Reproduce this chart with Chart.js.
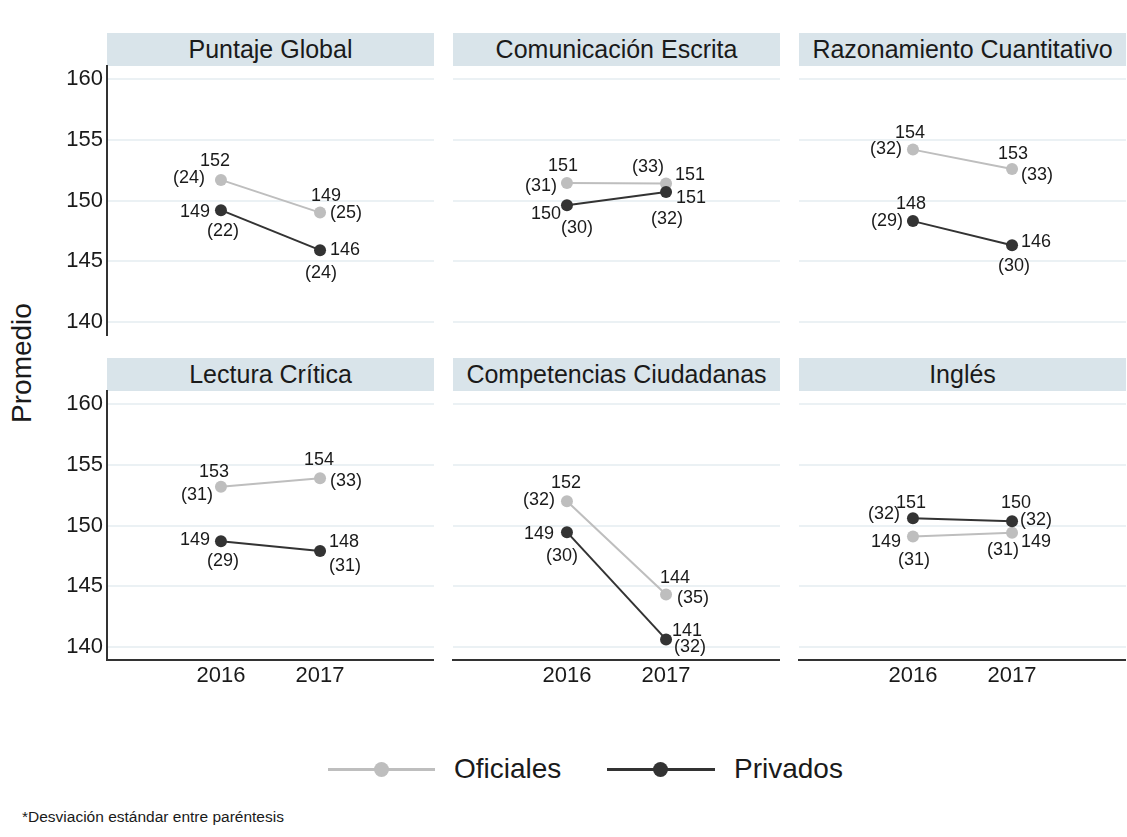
<!DOCTYPE html>
<html>
<head>
<meta charset="utf-8">
<script src="https://cdn.jsdelivr.net/npm/chart.js@4.4.1/dist/chart.umd.min.js"></script>
<style>
  body { margin: 0; background: #fff; font-family: "Liberation Sans", Arial, sans-serif; color: #1a1a1a; }
  #wrap { position: relative; width: 1127px; height: 837px; overflow: hidden; }
  .strip { position: absolute; background: #D9E4EA; text-align: center; font-size: 25px; line-height: 33px; height: 33px; }
  canvas { position: absolute; }
  .lg-line { position: absolute; height: 3px; }
  .lg-dot { position: absolute; width: 15px; height: 15px; border-radius: 50%; }
  .lg-text { position: absolute; font-size: 28px; line-height: 32px; }
</style>
</head>
<body>
<div id="wrap">
  <div id="ytitle" style="position:absolute; left:22px; top:363px; transform:translate(-50%,-50%) rotate(-90deg); font-size:28px; white-space:nowrap;">Promedio</div>

  <div class="lg-line" style="left:328px; top:768px; width:107px; background:#BEBEBE;"></div>
  <div class="lg-dot" style="left:374px; top:762px; background:#BEBEBE;"></div>
  <div class="lg-text" style="left:454px; top:753px;">Oficiales</div>
  <div class="lg-line" style="left:607px; top:768px; width:108px; background:#333;"></div>
  <div class="lg-dot" style="left:653px; top:762px; background:#333;"></div>
  <div class="lg-text" style="left:734px; top:753px;">Privados</div>

  <div style="position:absolute; left:22px; top:808px; font-size:15.5px;">*Desviación estándar entre paréntesis</div>
</div>
<script>
// datos
const subjects = ['Puntaje Global', 'Comunicación Escrita', 'Razonamiento Cuantitativo',
                  'Lectura Crítica', 'Competencias Ciudadanas', 'Inglés'];
const years = [2016, 2017];
const oficiales = [[151.7, 149.0], [151.45, 151.4], [154.2, 152.6], [153.2, 153.9], [152.0, 144.3], [149.1, 149.4]];
const privados = [[149.2, 145.9], [149.6, 150.7], [148.3, 146.3], [148.7, 147.9], [149.45, 140.6], [150.6, 150.35]];
const oficialesSD = [[24, 25], [31, 33], [32, 33], [31, 33], [32, 35], [31, 31]];
const privadosSD = [[22, 24], [30, 32], [29, 30], [29, 31], [30, 32], [32, 32]];
const yTicks = [140, 145, 150, 155, 160];

// posiciones de las etiquetas (dx, dy valor, dx, dy desviación) relativas al punto
const labelOffsets = [
  { ofi: [[-6, -19, -32, -2], [6, -17, 26, 0]],   pri: [[-26, 2, 2, 21], [25, 0, 1, 23]] },
  { ofi: [[-4, -17, -26, 3], [24, -9, -18, -17]], pri: [[-21, 9, 10, 23], [25, 6, 1, 27]] },
  { ofi: [[-3, -17, -27, -1], [1, -15, 25, 6]],   pri: [[-2, -17, -26, 0], [24, -3, 2, 21]] },
  { ofi: [[-7, -15, -24, 8], [-1, -18, 26, 3]],   pri: [[-26, -1, 2, 20], [24, -9, 25, 15]] },
  { ofi: [[-1, -18, -28, -1], [9, -17, 27, 3]],   pri: [[-28, 2, -5, 24], [21, -8, 24, 8]] },
  { ofi: [[-27, 6, 1, 24], [24, 9, -9, 17]],      pri: [[-2, -15, -29, -4], [4, -18, 24, -1]] }
];

const GRIS = '#BEBEBE';
const OSCURO = '#333333';
const colLeft = [107, 453, 799];
const rowTop = [66, 391];
const panelW = 327, plotH = 269, yAxisW = 70, xAxisH = 40, padTop = 20;

const wrap = document.getElementById('wrap');

// plugin para dibujar valor y (desviación) junto a cada punto
const etiquetas = {
  id: 'etiquetas',
  afterDatasetsDraw(chart) {
    const ctx = chart.ctx;
    const p = chart.options.plugins.etiquetas.panel;
    ctx.save();
    ctx.font = '18px "Liberation Sans", Arial, sans-serif';
    ctx.fillStyle = '#1a1a1a';
    ctx.textAlign = 'center';
    ctx.textBaseline = 'middle';
    chart.data.datasets.forEach((ds, di) => {
      const meta = chart.getDatasetMeta(di);
      const offs = labelOffsets[p][ds.key];
      const sds = ds.key === 'ofi' ? oficialesSD[p] : privadosSD[p];
      meta.data.forEach((pt, i) => {
        const o = offs[i];
        ctx.fillText(String(Math.round(ds.data[i].y)), pt.x + o[0], pt.y + o[1]);
        ctx.fillText('(' + sds[i] + ')', pt.x + o[2], pt.y + o[3]);
      });
    });
    ctx.restore();
  }
};

subjects.forEach((name, p) => {
  const col = p % 3, row = Math.floor(p / 3);

  const strip = document.createElement('div');
  strip.className = 'strip';
  strip.style.left = colLeft[col] + 'px';
  strip.style.top = (rowTop[row] - 33) + 'px';
  strip.style.width = panelW + 'px';
  strip.textContent = name;
  wrap.appendChild(strip);

  const cv = document.createElement('canvas');
  cv.width = yAxisW + panelW;
  cv.height = padTop + plotH + xAxisH;
  cv.style.left = (colLeft[col] - yAxisW) + 'px';
  cv.style.top = (rowTop[row] - padTop) + 'px';
  wrap.appendChild(cv);

  new Chart(cv.getContext('2d'), {
    type: 'line',
    data: {
      datasets: [
        { key: 'ofi', label: 'Oficiales', order: 2,
          data: years.map((y, i) => ({ x: y, y: oficiales[p][i] })),
          borderColor: GRIS, backgroundColor: GRIS, pointBackgroundColor: GRIS,
          borderWidth: 2, pointRadius: 6, pointBorderWidth: 0 },
        { key: 'pri', label: 'Privados', order: 1,
          data: years.map((y, i) => ({ x: y, y: privados[p][i] })),
          borderColor: OSCURO, backgroundColor: OSCURO, pointBackgroundColor: OSCURO,
          borderWidth: 2, pointRadius: 6, pointBorderWidth: 0 }
      ]
    },
    options: {
      responsive: false,
      animation: false,
      devicePixelRatio: 1,
      layout: { padding: { top: padTop, left: 0, right: 0, bottom: 0 }, autoPadding: false },
      plugins: { legend: { display: false }, tooltip: { enabled: false }, etiquetas: { panel: p } },
      scales: {
        x: {
          type: 'linear', min: 2014.85, max: 2018.15,
          afterBuildTicks: s => { s.ticks = years.map(v => ({ value: v })); },
          afterFit: s => { s.height = xAxisH; },
          grid: { display: false, drawTicks: false },
          border: { display: row === 1, color: OSCURO, width: 2 },
          ticks: { display: row === 1, padding: 3, color: '#1a1a1a',
                   font: { size: 22, family: '"Liberation Sans", Arial, sans-serif' },
                   callback: v => String(v) }
        },
        y: {
          min: 138.9, max: 161.1,
          afterBuildTicks: s => { s.ticks = yTicks.map(v => ({ value: v })); },
          afterFit: s => { s.width = yAxisW; },
          grid: { color: '#EBF1F4', lineWidth: 2, drawTicks: false },
          border: { display: col === 0, color: OSCURO, width: 2 },
          ticks: { display: col === 0, padding: 4, color: '#1a1a1a',
                   font: { size: 22, family: '"Liberation Sans", Arial, sans-serif' },
                   callback: v => String(v) }
        }
      }
    },
    plugins: [etiquetas]
  });
});
</script>
</body>
</html>
